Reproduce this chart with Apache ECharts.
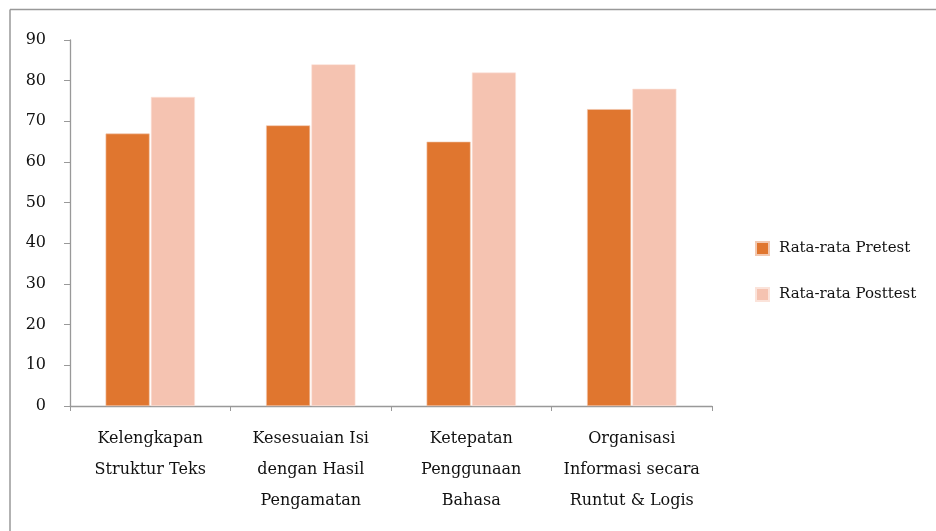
<!DOCTYPE html>
<html><head><meta charset="utf-8">
<script src="https://cdn.jsdelivr.net/npm/echarts@6/dist/echarts.min.js"></script>
<style>html,body{margin:0;padding:0;background:#fff}#c{width:936px;height:531px}</style>
</head><body><div id="c"></div>
<script>
const categories = ['Kelengkapan\nStruktur Teks', 'Kesesuaian Isi\ndengan Hasil\nPengamatan', 'Ketepatan\nPenggunaan\nBahasa', 'Organisasi\nInformasi secara\nRuntut & Logis'];
const pretest = [67, 69, 65, 73];
const posttest = [76, 84, 82, 78];
const seriesNames = ['Rata-rata Pretest', 'Rata-rata Posttest'];
const yTicks = {min: 0, max: 90, interval: 10};
const font = '"DejaVu Serif", "Liberation Serif", serif';
const chart = echarts.init(document.getElementById('c'));
chart.setOption({
  animation: false,
  textStyle: {fontFamily: font},
  grid: {left: 70, top: 40, width: 642, height: 366, containLabel: false},
  legend: {
    orient: 'vertical', left: 750, top: 236, itemGap: 31,
    itemWidth: 13, itemHeight: 13, icon: 'rect',
    textStyle: {fontFamily: font, fontSize: 15, color: '#111', padding: [0, 0, 0, 5]},
    data: seriesNames
  },
  xAxis: {
    type: 'category', data: categories,
    axisLine: {lineStyle: {color: '#999', width: 1.3}},
    axisTick: {show: true, length: 5, lineStyle: {color: '#999'}},
    axisLabel: {fontFamily: font, fontSize: 16, color: '#111', lineHeight: 31, margin: 17, interval: 0, verticalAlign: 'top'},
  },
  yAxis: {
    type: 'value', min: yTicks.min, max: yTicks.max, interval: yTicks.interval,
    axisLine: {show: true, lineStyle: {color: '#999', width: 1.3}},
    axisTick: {show: true, length: 6, lineStyle: {color: '#999'}},
    splitLine: {show: false},
    axisLabel: {fontFamily: font, fontSize: 16, color: '#111', margin: 24}
  },
  series: [
    {name: seriesNames[0], type: 'bar', data: pretest, barWidth: 44, barGap: '3%',
     itemStyle: {color: '#E0762F', borderColor: '#F2C8B0', borderWidth: 0.6}},
    {name: seriesNames[1], type: 'bar', data: posttest, barWidth: 44,
     itemStyle: {color: '#F5C3B1', borderColor: '#FBE3DA', borderWidth: 0.6}}
  ],
  graphic: [
    {type: 'line', shape: {x1: 10, y1: 9.5, x2: 936, y2: 9.5}, style: {stroke: '#999', lineWidth: 1.5}, silent: true},
    {type: 'line', shape: {x1: 10, y1: 9.5, x2: 10, y2: 531}, style: {stroke: '#999', lineWidth: 1.5}, silent: true}
  ]
});
</script></body></html>
